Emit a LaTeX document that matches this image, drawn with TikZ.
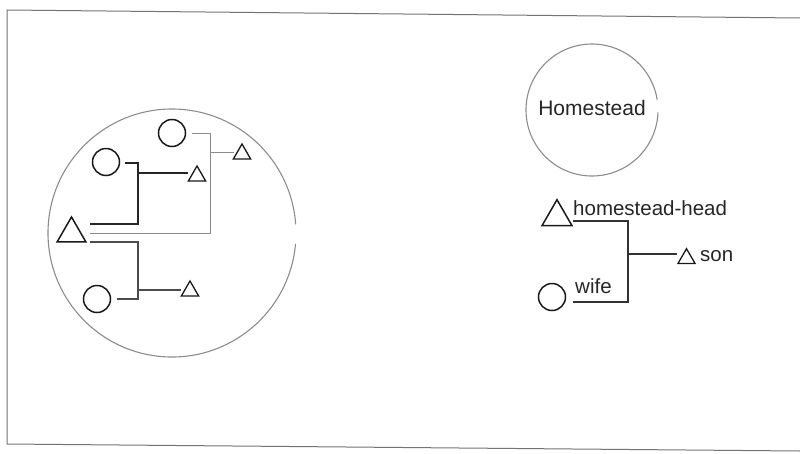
\documentclass[tikz,border=0pt]{standalone}
\usepackage{fontspec}
\setmainfont{Liberation Sans}
\usetikzlibrary{shapes.geometric}
\begin{document}
\begin{tikzpicture}[x=1pt,y=-1pt,
  frameline/.style={draw=black!55,line width=1pt},
  bigring/.style={draw=black!45,line width=1.1pt},
  female/.style={circle,draw=black!90,line width=1.5pt,inner sep=0pt,minimum size=27pt},
  malebig/.style={regular polygon,regular polygon sides=3,draw=black!90,line width=1.5pt,inner sep=0pt,minimum size=33pt},
  malesmall/.style={regular polygon,regular polygon sides=3,draw=black!90,line width=1.3pt,inner sep=0pt,minimum size=20pt},
  linkA/.style={draw=black!45,line width=1pt},
  linkB/.style={draw=black!85,line width=1.3pt},
  linkC/.style={draw=black!70,line width=1.1pt},
  linkR/.style={draw=black!80,line width=1.1pt},
  lbl/.style={inner sep=0pt,anchor=base west,text=black!85,font=\fontsize{20.5}{24}\selectfont}]
\useasboundingbox (0,0) rectangle (800,453);
% frame
\coordinate (f1) at (800,18);
\coordinate (f2) at (7,10);
\coordinate (f3) at (7,444);
\coordinate (f4) at (800,451);
\draw[frameline] (f1) -- (f2) -- (f3) -- (f4);
% left homestead ring
\coordinate (ring) at (172,233);
\draw[bigring] ([shift={(5:124)}]ring) arc[start angle=5,end angle=356,radius=124];
% left diagram shapes
\node[female] (c1) at (172,133) {};
\node[female] (c2) at (106,162) {};
\node[female] (c3) at (97,299) {};
\node[malebig] (bt) at (71.5,233.5) {};
\node[malesmall] (t1) at (242,154) {};
\node[malesmall] (t2) at (197,176) {};
\node[malesmall] (t3) at (190,291) {};
% family A (grey)
\coordinate (a1) at (192,133);
\coordinate (a2) at (210,133);
\coordinate (a3) at (210,233);
\coordinate (a4) at (90,233);
\coordinate (ab) at (210,152);
\coordinate (ae) at (234,152);
\draw[linkA] (a1) -- (a2) -- (a3) -- (a4);
\draw[linkA] (ab) -- (ae);
% family B (dark)
\coordinate (b1) at (125,163);
\coordinate (b2) at (138,163);
\coordinate (b3) at (138,224);
\coordinate (b4) at (90,224);
\coordinate (bb) at (138,173);
\coordinate (be) at (188,173);
\draw[linkB] (b1) -- (b2) -- (b3) -- (b4);
\draw[linkB] (bb) -- (be);
% family C
\coordinate (k1) at (90,242);
\coordinate (k2) at (138,242);
\coordinate (k3) at (138,299);
\coordinate (k4) at (117,299);
\coordinate (kb) at (138,290);
\coordinate (ke) at (181,290);
\draw[linkC] (k1) -- (k2) -- (k3) -- (k4);
\draw[linkC] (kb) -- (ke);
% legend: Homestead ring
\coordinate (hring) at (592,110);
\draw[bigring] ([shift={(2:66)}]hring) arc[start angle=2,end angle=351,radius=66];
\node[inner sep=0pt,anchor=base,text=black!85,font=\fontsize{21}{25}\selectfont] (hlabel) at (592,115) {Homestead};
% legend: family
\node[malebig,minimum size=34.6pt] (rt) at (557,217) {};
\node[female] (rc) at (552,297) {};
\node[malesmall,minimum size=19.6pt] (st) at (686.5,258.5) {};
\coordinate (r1) at (573,221);
\coordinate (r2) at (628,221);
\coordinate (r3) at (628,302);
\coordinate (r4) at (573,302);
\coordinate (rb) at (628,254);
\coordinate (re) at (677,254);
\draw[linkR] (r1) -- (r2) -- (r3) -- (r4);
\draw[linkR] (rb) -- (re);
\node[lbl] (headlbl) at (573,215) {homestead-head};
\node[lbl] (sonlbl) at (700,261) {son};
\node[lbl] (wifelbl) at (575,293) {wife};
\end{tikzpicture}
\end{document}
